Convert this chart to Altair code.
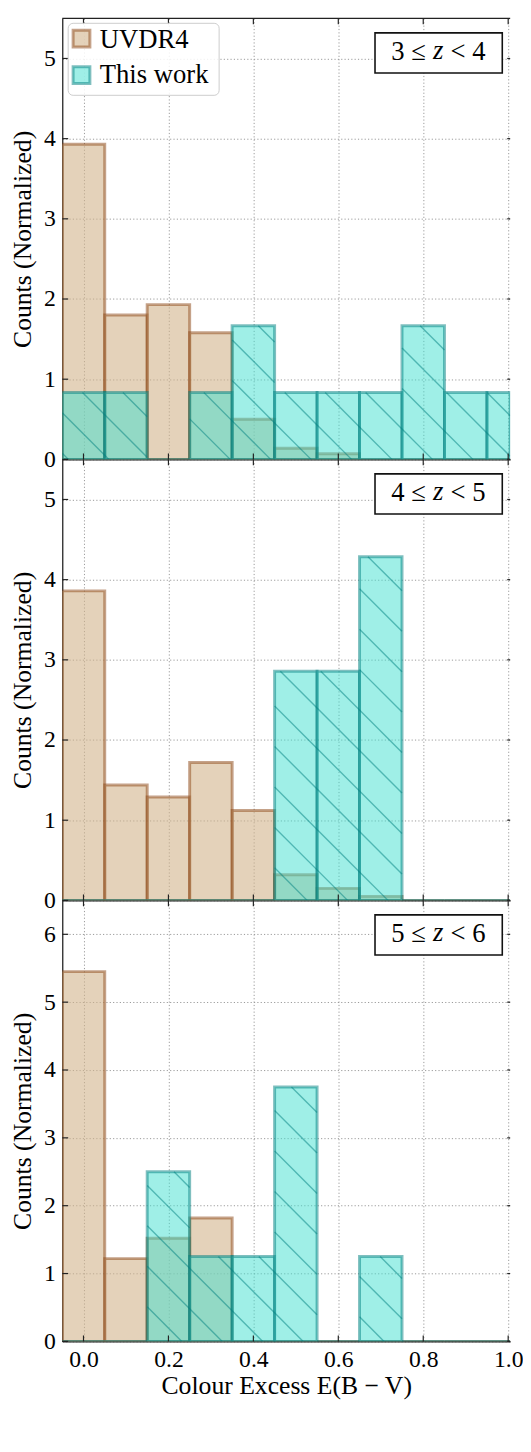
import math
import altair as alt
import pandas as pd

# ---------------- data ----------------
bin_centers = [0.0, 0.1, 0.2, 0.3, 0.4, 0.5, 0.6, 0.7, 0.8, 0.9, 1.0]
bin_width = 0.1
series_names = ["UVDR4", "This work"]

uvdr4_z3 = [3.93, 1.80, 1.93, 1.58, 0.50, 0.14, 0.07, 0.0, 0.0, 0.0, 0.0]
this_z3 = [0.833, 0.833, 0.0, 0.833, 1.667, 0.833, 0.833, 0.833, 1.667, 0.833, 0.833]

uvdr4_z4 = [3.86, 1.44, 1.29, 1.72, 1.12, 0.32, 0.15, 0.05, 0.0, 0.0, 0.0]
this_z4 = [0.0, 0.0, 0.0, 0.0, 0.0, 2.857, 2.857, 4.286, 0.0, 0.0, 0.0]

uvdr4_z5 = [5.45, 1.22, 1.52, 1.82, 0.0, 0.0, 0.0, 0.0, 0.0, 0.0, 0.0]
this_z5 = [0.0, 0.0, 2.5, 1.25, 1.25, 3.75, 0.0, 1.25, 0.0, 0.0, 0.0]

# redshift-bin labels: (lower bound, upper bound)
panel_bounds = [("3", "4"), ("4", "5"), ("5", "6")]
panel_ymax = [5.5, 5.5, 6.5]
panel_yticks = [[0, 1, 2, 3, 4, 5], [0, 1, 2, 3, 4, 5], [0, 1, 2, 3, 4, 5, 6]]
x_ticks = [0.0, 0.2, 0.4, 0.6, 0.8, 1.0]

# ---------------- layout / style ----------------
PX_PER_UNIT = 430.45
W, H = 454, 447
XMIN = -0.05
XMAX = XMIN + W / PX_PER_UNIT
FONT = "Liberation Serif"
TAN, SIENNA = "#d2b48c", "#8b4513"
TURQ, TEAL = "#40e0d0", "#008080"
PLOT_LEFT = 60.5
PAGE_TOP = 16
HATCH_STEP = 41.0
HATCH_PHASE = 13.7
TICK = 6


def hatch_segments(x_lo, x_hi, heights, ymax, top):
    sx = W / (XMAX - XMIN)
    sy = H / ymax
    rows = []
    for a, b, h in zip(x_lo, x_hi, heights):
        if h <= 0:
            continue
        X0 = (a - XMIN) * sx
        X1 = (min(b, XMAX) - XMIN) * sx
        Yt = (ymax - h) * sy
        Yb = H
        for n in range(-80, 80):
            c = HATCH_PHASE + n * HATCH_STEP - PLOT_LEFT + top
            Xa = max(X0, Yt + c)
            Xb = min(X1, Yb + c)
            if Xb - Xa > 0.5:
                rows.append({
                    "xa": Xa / sx + XMIN, "ya": ymax - (Xa - c) / sy,
                    "xb": Xb / sx + XMIN, "yb": ymax - (Xb - c) / sy,
                })
    return pd.DataFrame(rows)


def legend_layers():
    one = alt.Data(values=[{"a": series_names[0], "b": series_names[1]}])
    frame = alt.Chart(one).mark_rect(fill="white", fillOpacity=0.85, stroke="#cccccc",
                                     strokeWidth=1, cornerRadius=5).encode(
        x=alt.value(6), x2=alt.value(159), y=alt.value(5), y2=alt.value(78))
    sw1 = alt.Chart(one).mark_rect(fill=TAN, fillOpacity=0.6, stroke=SIENNA,
                                   strokeOpacity=0.5, strokeWidth=3).encode(
        x=alt.value(11), x2=alt.value(28), y=alt.value(12), y2=alt.value(29))
    sw2 = alt.Chart(one).mark_rect(fill=TURQ, fillOpacity=0.5, stroke=TEAL,
                                   strokeOpacity=0.5, strokeWidth=3).encode(
        x=alt.value(11), x2=alt.value(28), y=alt.value(49), y2=alt.value(66))
    l1 = alt.Chart(one).mark_text(font=FONT, fontSize=27, color="black", align="left",
                                  baseline="middle").encode(
        x=alt.value(38), y=alt.value(22), text="a:N")
    l2 = alt.Chart(one).mark_text(font=FONT, fontSize=27, color="black", align="left",
                                  baseline="middle").encode(
        x=alt.value(38), y=alt.value(58), text="b:N")
    return [frame, sw1, sw2, l1, l2]


def panel(i, uv, tw):
    ymax = panel_ymax[i]
    yt = panel_yticks[i]
    top = PAGE_TOP + i * H
    x_lo = [c0 - bin_width / 2 for c0 in bin_centers]
    x_hi = [c0 + bin_width / 2 for c0 in bin_centers]
    uv_df = pd.DataFrame({"x0": x_lo, "x1": x_hi, "h": uv})
    tw_df = pd.DataFrame({"x0": x_lo, "x1": x_hi, "h": tw})

    bottom = i == 2
    xaxis = alt.Axis(values=x_ticks, grid=True, ticks=False, tickSize=0,
                     labels=bottom, format=".1f", labelFontSize=24, labelPadding=6,
                     title="Colour Excess E(B − V)" if bottom else None,
                     titleFontSize=26, titleFontWeight="normal", titlePadding=2,
                     domainColor="#222222", domainWidth=1.3,
                     gridColor="#999999", gridDash=[1.2, 2.2], gridWidth=1)
    yaxis = alt.Axis(values=yt, grid=True, ticks=False, tickSize=0, format="d",
                     labelFontSize=24, labelPadding=7,
                     title="Counts (Normalized)", titleFontSize=26,
                     titleFontWeight="normal", titlePadding=8,
                     domainColor="#222222", domainWidth=1.3,
                     gridColor="#999999", gridDash=[1.2, 2.2], gridWidth=1)

    xsc = alt.Scale(domain=[XMIN, XMAX], nice=False, zero=False, clamp=True)
    ysc = alt.Scale(domain=[0, ymax], nice=False, zero=True)

    uv_bars = alt.Chart(uv_df).mark_rect(
        fill=TAN, fillOpacity=0.6, stroke=SIENNA, strokeOpacity=0.5, strokeWidth=3, clip=True
    ).encode(
        x=alt.X("x0:Q", scale=xsc, axis=xaxis),
        x2="x1:Q",
        y=alt.Y("h:Q", scale=ysc, axis=yaxis),
        y2=alt.datum(0),
    )
    tw_bars = alt.Chart(tw_df).mark_rect(
        fill=TURQ, fillOpacity=0.5, stroke=TEAL, strokeOpacity=0.5, strokeWidth=3, clip=True
    ).encode(
        x=alt.X("x0:Q"),
        x2="x1:Q",
        y=alt.Y("h:Q"),
        y2=alt.datum(0),
    )
    hdf = hatch_segments(x_lo, x_hi, tw, ymax, top)
    hatch = alt.Chart(hdf).mark_rule(color=TEAL, opacity=0.5, strokeWidth=1.4, clip=True).encode(
        x="xa:Q", y="ya:Q", x2="xb:Q", y2="yb:Q"
    )

    xt = pd.DataFrame({"v": x_ticks})
    ytk = pd.DataFrame({"v": yt})
    tick_col = "#222222"
    t_bottom = alt.Chart(xt).mark_rule(color=tick_col, strokeWidth=1.2).encode(
        x="v:Q", y=alt.value(H), y2=alt.value(H - TICK))
    t_top = alt.Chart(xt).mark_rule(color=tick_col, strokeWidth=1.2).encode(
        x="v:Q", y=alt.value(0), y2=alt.value(TICK))
    t_left = alt.Chart(ytk).mark_rule(color=tick_col, strokeWidth=1.2).encode(
        y="v:Q", x=alt.value(0), x2=alt.value(TICK))
    t_right = alt.Chart(ytk).mark_rule(color=tick_col, strokeWidth=1.2).encode(
        y="v:Q", x=alt.value(W - 3), x2=alt.value(W))

    lo, hi = panel_bounds[i]
    one = alt.Data(values=[{"left": f"{lo} ≤", "z": "z", "right": f"< {hi}"}])
    bx = W - 8
    box = alt.Chart(one).mark_rect(fill="white", stroke="#111111", strokeWidth=1.6).encode(
        x=alt.value(bx - 129), x2=alt.value(bx), y=alt.value(14.7), y2=alt.value(55.3))
    t1 = alt.Chart(one).mark_text(font=FONT, fontSize=27, color="black",
                                  align="right", baseline="middle").encode(
        x=alt.value(bx - 77.5), y=alt.value(34), text="left:N")
    t2 = alt.Chart(one).mark_text(font=FONT, fontSize=27, color="black", fontStyle="italic",
                                  align="center", baseline="middle").encode(
        x=alt.value(bx - 65), y=alt.value(33), text="z:N")
    t3 = alt.Chart(one).mark_text(font=FONT, fontSize=27, color="black",
                                  align="left", baseline="middle").encode(
        x=alt.value(bx - 52.5), y=alt.value(34), text="right:N")

    layers = [uv_bars, tw_bars, hatch, t_bottom, t_top, t_left, t_right, box, t1, t2, t3]
    if i == 0:
        spine = alt.Chart(one).mark_rule(color="#222222", strokeWidth=1.3).encode(
            x=alt.value(0), x2=alt.value(W), y=alt.value(0))
        layers.append(spine)
        layers.extend(legend_layers())
    return alt.layer(*layers).properties(width=W, height=H)


p1 = panel(0, uvdr4_z3, this_z3)
p2 = panel(1, uvdr4_z4, this_z4)
p3 = panel(2, uvdr4_z5, this_z5)

chart = alt.vconcat(p1, p2, p3, spacing=0, bounds="flush").resolve_scale(
    y="independent"
).properties(
    padding={"top": 0, "left": 2, "right": 0, "bottom": 0},
    autosize=alt.AutoSizeParams(type="pad"),
).configure(
    font=FONT
).configure_view(
    stroke=None
).configure_axis(
    labelColor="black", titleColor="black", labelFont=FONT, titleFont=FONT
)

chart.save("out.html", embed_options={"renderer": "svg", "actions": False})
